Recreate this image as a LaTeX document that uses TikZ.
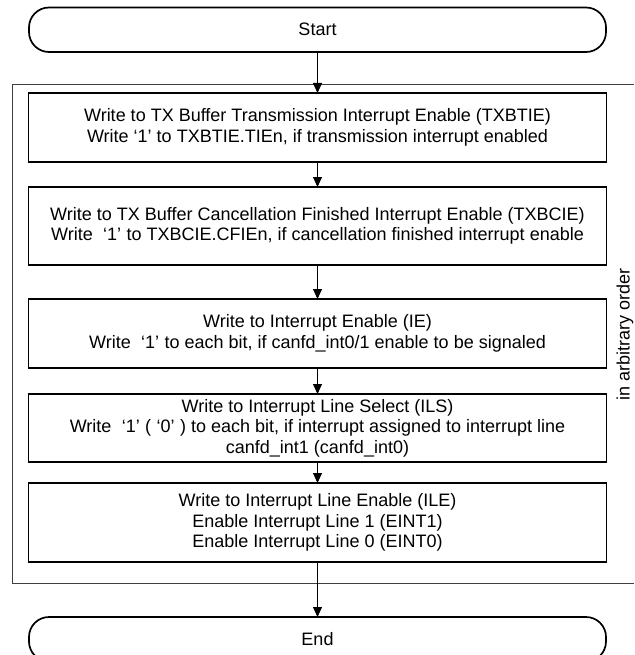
\documentclass[tikz,border=0pt]{standalone}
\usepackage{fontspec}
\setmainfont{Liberation Sans}
\usepackage{tikz}
\usetikzlibrary{arrows.meta, positioning}
\newcommand{\cq}[1]{\kern0.3em‘#1’\kern0.3em}

\begin{document}
\begin{tikzpicture}[
    x=1pt, y=1pt,
    every node/.style={font=\fontsize{18}{20.5}\selectfont, align=center},
    stepbox/.style={draw, line width=1.7pt, minimum width=578pt, inner sep=0pt, outer sep=0pt},
    term/.style={draw, line width=1.7pt, rounded corners=20pt, minimum width=577pt, minimum height=44.5pt, outer sep=0pt},
    arr/.style={-{Triangle[length=10pt, width=9pt]}, line width=0.8pt}
]
\useasboundingbox (0,0) rectangle (634,-655);
\node (start) [term] at (317.5,-29.75) {Start};
\node (txbtie) [stepbox, minimum height=69pt] at (317.5,-127.5) {Write to TX Buffer Transmission Interrupt Enable (TXBTIE)\\Write ‘1’ to TXBTIE.TIEn, if transmission interrupt enabled};
\node (txbcie) [stepbox, minimum height=78pt] at (317.5,-226) {Write to TX Buffer Cancellation Finished Interrupt Enable (TXBCIE)\\Write \cq{1} to TXBCIE.CFIEn, if cancellation finished interrupt enable};
\node (ie) [stepbox, minimum height=69pt] at (317.5,-333.5) {Write to Interrupt Enable (IE)\\Write \cq{1} to each bit, if canfd\_int0/1 enable to be signaled};
\node (ils) [stepbox, minimum height=68pt] at (317.5,-428) {Write to Interrupt Line Select (ILS)\\Write \cq{1} (\cq{0}) to each bit, if interrupt assigned to interrupt line\\canfd\_int1 (canfd\_int0)};
\node (ile) [stepbox, minimum height=79pt] at (317.5,-522.5) {Write to Interrupt Line Enable (ILE)\\Enable Interrupt Line 1 (EINT1)\\Enable Interrupt Line 0 (EINT0)};
\node (end) [term] at (317.5,-639.25) {End};
% open frame round the steps
\draw[line width=0.8pt, black!75] (634,-84) -- (12,-84) -- (12,-583) -- (634,-583);
\node (order) [rotate=90] at (625,-334) {in arbitrary order};
\draw[arr] (start) -- (txbtie);
\draw[arr] (txbtie) -- (txbcie);
\draw[arr] (txbcie) -- (ie);
\draw[arr] (ie) -- (ils);
\draw[arr] (ils) -- (ile);
\draw[arr] (ile) -- (end);
\end{tikzpicture}
\end{document}
